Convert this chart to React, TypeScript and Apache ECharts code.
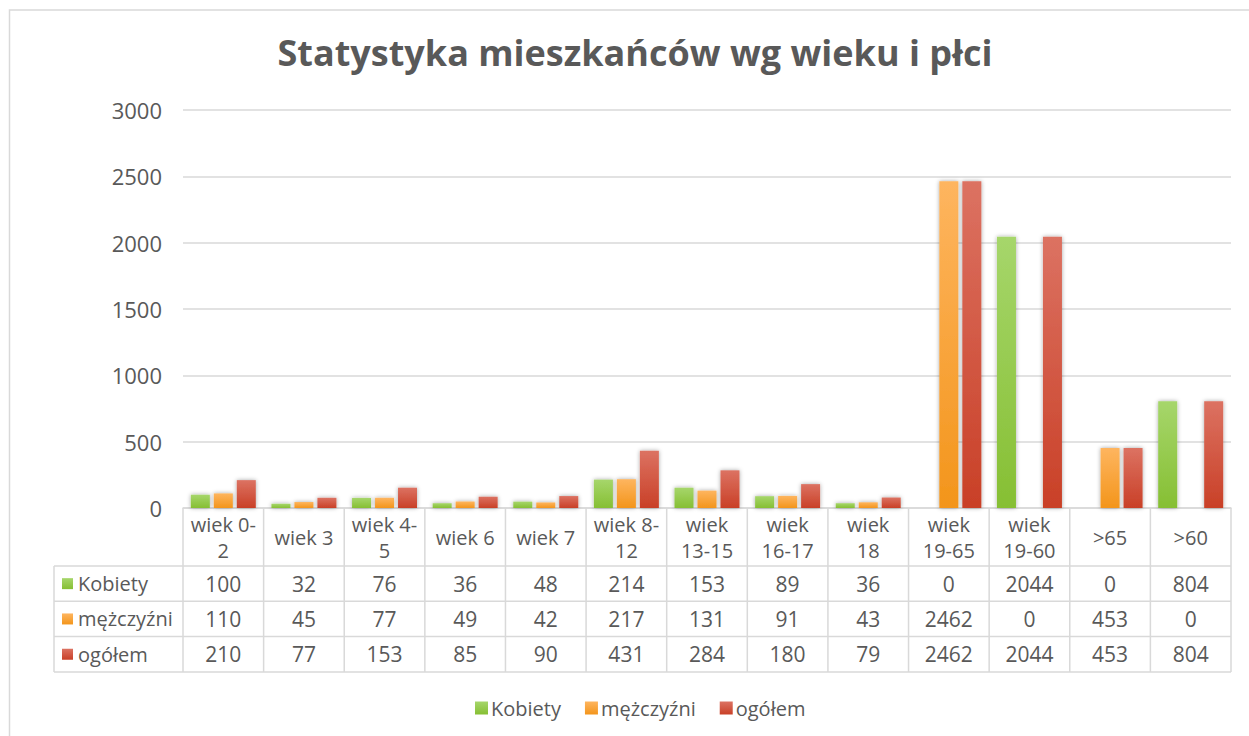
import React, { useEffect, useRef } from "react";
import * as echarts from "echarts";

const categories = ["wiek 0-2", "wiek 3", "wiek 4-5", "wiek 6", "wiek 7", "wiek 8-12", "wiek 13-15", "wiek 16-17", "wiek 18", "wiek 19-65", "wiek 19-60", ">65", ">60"];
const kobiety = [100, 32, 76, 36, 48, 214, 153, 89, 36, 0, 2044, 0, 804];
const mezczyzni = [110, 45, 77, 49, 42, 217, 131, 91, 43, 2462, 0, 453, 0];
const ogolem = [210, 77, 153, 85, 90, 431, 284, 180, 79, 2462, 2044, 453, 804];
const seriesNames = ["Kobiety", "mężczyźni", "ogółem"];
const yTicks = [0, 500, 1000, 1500, 2000, 2500, 3000];
const title = "Statystyka mieszkańców wg wieku i płci";

const FONT = "'Open Sans', 'DejaVu Sans', sans-serif";
const TXT = "#595959";
const LINE = "#d9d9d9";

const grad = (top: string, bottom: string) =>
  new echarts.graphic.LinearGradient(0, 0, 0, 1, [
    { offset: 0, color: top },
    { offset: 1, color: bottom },
  ]);
const colors = [
  ["#a6d66b", "#86bf33"],
  ["#feb55f", "#f3951b"],
  ["#dc7262", "#c94027"],
];

function headerLines(label: string): string[] {
  if (label.length <= 6) return [label];
  const sp = label.indexOf(" ");
  if (sp < 0) return [label];
  const rest = label.slice(sp + 1);
  const dash = rest.indexOf("-");
  if (dash === 1) return [label.slice(0, sp + 1 + dash + 1), rest.slice(dash + 1)];
  return [label.slice(0, sp), rest];
}

export default function App() {
  const ref = useRef<HTMLDivElement>(null);
  useEffect(() => {
    if (!ref.current) return;
    const chart = echarts.init(ref.current, null, { renderer: "svg" });
    const data = [kobiety, mezczyzni, ogolem];
    chart.setOption({
      animation: false,
      textStyle: { fontFamily: FONT },
      grid: { left: 183, right: 18, top: 110, bottom: 228, containLabel: false },
      legend: {
        left: 470,
        top: 693,
        icon: "rect",
        itemWidth: 13,
        itemHeight: 13,
        itemGap: 24,
        textStyle: { fontFamily: FONT, fontSize: 20, color: TXT, padding: [0, 0, 0, -2] },
        data: seriesNames,
      },
      xAxis: {
        type: "category",
        data: categories,
        axisLine: { show: true, lineStyle: { color: LINE, width: 1.5 } },
        axisTick: { show: false },
        axisLabel: { show: false },
      },
      yAxis: {
        type: "value",
        min: 0,
        max: 3000,
        interval: 500,
        axisLine: { show: false },
        axisTick: { show: false },
        splitLine: { lineStyle: { color: LINE, width: 1.5 } },
        axisLabel: {
          color: TXT,
          fontSize: 22,
          fontFamily: FONT,
          margin: 21,
          formatter: (v: number) => (yTicks.includes(v) ? String(v) : ""),
        },
      },
      series: data.map((d, i) => ({
        name: seriesNames[i],
        type: "bar",
        data: d,
        barWidth: 19,
        barGap: "21%",
        itemStyle: {
          color: grad(colors[i][0], colors[i][1]),
          shadowBlur: 4,
          shadowColor: "rgba(0,0,0,0.35)",
          shadowOffsetX: 0,
          shadowOffsetY: 0,
        },
      })),
    });

    const x0 = chart.convertToPixel({ xAxisIndex: 0 }, 0) as number;
    const x1 = chart.convertToPixel({ xAxisIndex: 0 }, 1) as number;
    const w = x1 - x0;
    const yZero = chart.convertToPixel({ yAxisIndex: 0 }, 0) as number;
    const tableLeft = 54;
    const headerH = 58;
    const rowH = 35.3;
    const right = x0 - w / 2 + w * categories.length;
    const gridLeft = x0 - w / 2;
    const els: any[] = [];
    const ls = { stroke: LINE, lineWidth: 1.5 };
    const FS = 21;
    const HFS = 20;

    // outer chart border
    els.push({ type: "rect", shape: { x: 9.5, y: 10, width: 1300, height: 800 }, style: { fill: "none", stroke: LINE, lineWidth: 1.5 }, silent: true });
    els.push({
      type: "text",
      x: 635,
      y: 52,
      style: { text: title, fontFamily: FONT, fontSize: 36, fontWeight: "bold", fill: TXT, textAlign: "center", textVerticalAlign: "middle" },
    });

    // horizontal table lines
    const hy = [yZero + headerH, yZero + headerH + rowH, yZero + headerH + 2 * rowH, yZero + headerH + 3 * rowH];
    hy.forEach((y) => els.push({ type: "line", shape: { x1: tableLeft, y1: y, x2: right, y2: y }, style: ls }));
    els.push({ type: "line", shape: { x1: tableLeft, y1: hy[0], x2: tableLeft, y2: hy[3] }, style: ls });
    for (let i = 0; i <= categories.length; i++) {
      const x = gridLeft + i * w;
      els.push({ type: "line", shape: { x1: x, y1: yZero, x2: x, y2: hy[3] }, style: ls });
    }
    // header
    categories.forEach((c, i) => {
      const lines = headerLines(c);
      const mid = yZero + headerH / 2;
      lines.forEach((t, k) => {
        const off = lines.length === 1 ? 0 : (k === 0 ? -13 : 13);
        els.push({
          type: "text",
          x: x0 + i * w,
          y: mid + off,
          style: { text: t, fontFamily: FONT, fontSize: HFS, fill: TXT, textAlign: "center", textVerticalAlign: "middle" },
        });
      });
    });
    // rows
    data.forEach((d, r) => {
      const cy = hy[r] + rowH / 2;
      els.push({ type: "rect", shape: { x: 62, y: cy - 5.5, width: 11, height: 11 }, style: { fill: grad(colors[r][0], colors[r][1]) } });
      els.push({
        type: "text",
        x: 78,
        y: cy,
        style: { text: seriesNames[r], fontFamily: FONT, fontSize: 20, fill: TXT, textAlign: "left", textVerticalAlign: "middle" },
      });
      d.forEach((v, i) => {
        els.push({
          type: "text",
          x: x0 + i * w,
          y: cy,
          style: { text: String(v), fontFamily: FONT, fontSize: FS, fill: TXT, textAlign: "center", textVerticalAlign: "middle" },
        });
      });
    });
    chart.setOption({ graphic: { elements: els } });
    return () => chart.dispose();
  }, []);
  return <div ref={ref} style={{ position: "fixed", left: 0, top: 0, width: 1249, height: 736, background: "#fff" }} />;
}
